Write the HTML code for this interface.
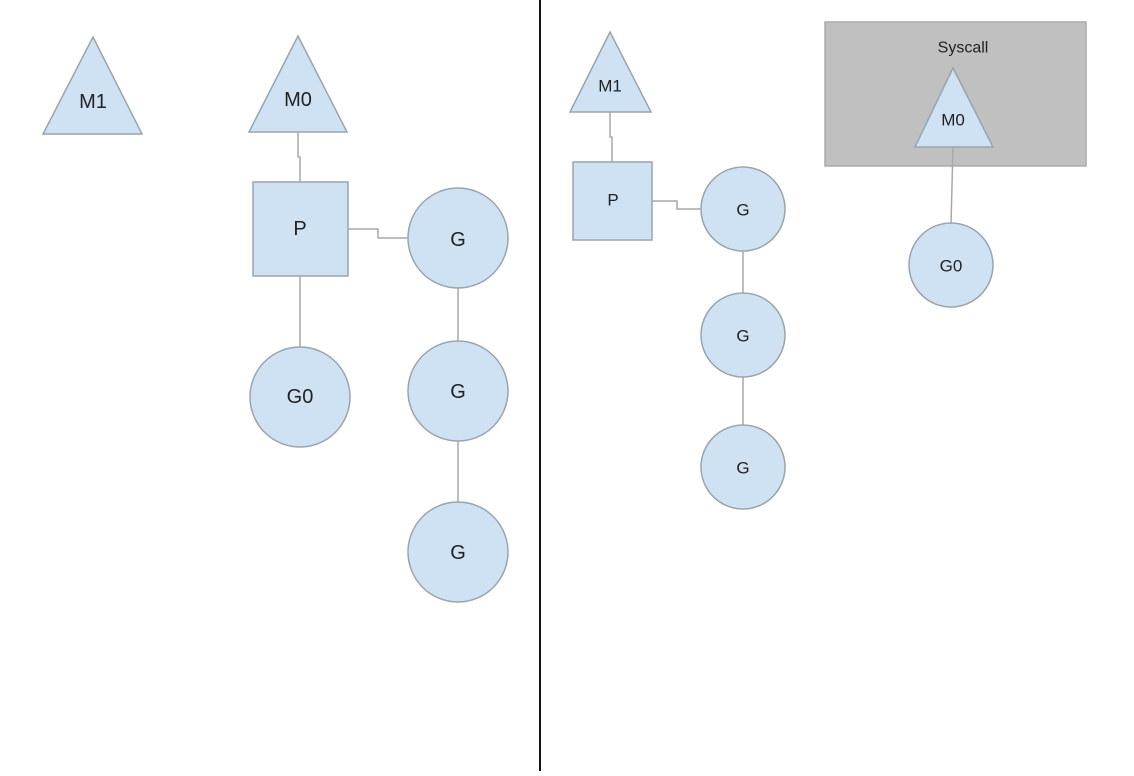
<!DOCTYPE html>
<html><head><meta charset="utf-8"><style>
html,body{margin:0;padding:0;background:#fff;}
svg{display:block;}
text{font-family:"Liberation Sans",sans-serif;fill:#222;text-anchor:middle;dominant-baseline:central;}
</style></head><body>
<svg width="1134" height="776" viewBox="0 0 1134 776" xmlns="http://www.w3.org/2000/svg">
<rect width="1134" height="776" fill="#fff"/>
<g stroke="#a9a9a9" stroke-width="1.5" fill="none">
<!-- left connectors -->
<polyline points="298,132 298,157 300,157 300,182"/>
<polyline points="348,229 378,229 378,238 408,238"/>
<line x1="300" y1="276" x2="300" y2="347"/>
<line x1="458" y1="288" x2="458" y2="341"/>
<line x1="458" y1="441" x2="458" y2="502"/>
<!-- right connectors -->
<polyline points="610,112 610,137 612,137 612,162"/>
<polyline points="652,201 677,201 677,209 702,209"/>
<line x1="743" y1="251" x2="743" y2="293"/>
<line x1="743" y1="377" x2="743" y2="425"/>
</g>
<!-- syscall box -->
<rect x="825" y="22" width="261" height="144" fill="#c0c0c0" stroke="#aaa" stroke-width="1.5"/>
<text x="963" y="48" font-size="16">Syscall</text>
<line x1="953" y1="147" x2="951" y2="224" stroke="#a9a9a9" stroke-width="1.5"/>
<g fill="#cfe2f3" stroke="#9aa4ad" stroke-width="1.5">
<polygon points="93,37 43,134 142,134"/>
<polygon points="298,36 249,132 347,132"/>
<rect x="253" y="182" width="95" height="94"/>
<circle cx="458" cy="238" r="50"/>
<circle cx="458" cy="391" r="50"/>
<circle cx="458" cy="552" r="50"/>
<circle cx="300" cy="397" r="50"/>
<polygon points="610,32 570,112 651,112"/>
<rect x="573" y="162" width="79" height="78"/>
<circle cx="743" cy="209" r="42"/>
<circle cx="743" cy="335" r="42"/>
<circle cx="743" cy="467" r="42"/>
<polygon points="953,68 915,147 993,147"/>
<circle cx="951" cy="265" r="42"/>
</g>
<g font-size="20">
<text x="93" y="102">M1</text>
<text x="298" y="100">M0</text>
<text x="300" y="229">P</text>
<text x="458" y="240">G</text>
<text x="458" y="392">G</text>
<text x="458" y="553">G</text>
<text x="300" y="397">G0</text>
</g>
<g font-size="17">
<text x="610" y="86">M1</text>
<text x="613" y="200">P</text>
<text x="743" y="210">G</text>
<text x="743" y="336">G</text>
<text x="743" y="468">G</text>
<text x="953" y="120">M0</text>
<text x="951" y="266">G0</text>
</g>
<line x1="540" y1="0" x2="540" y2="771" stroke="#111" stroke-width="2"/>
</svg>
</body></html>
